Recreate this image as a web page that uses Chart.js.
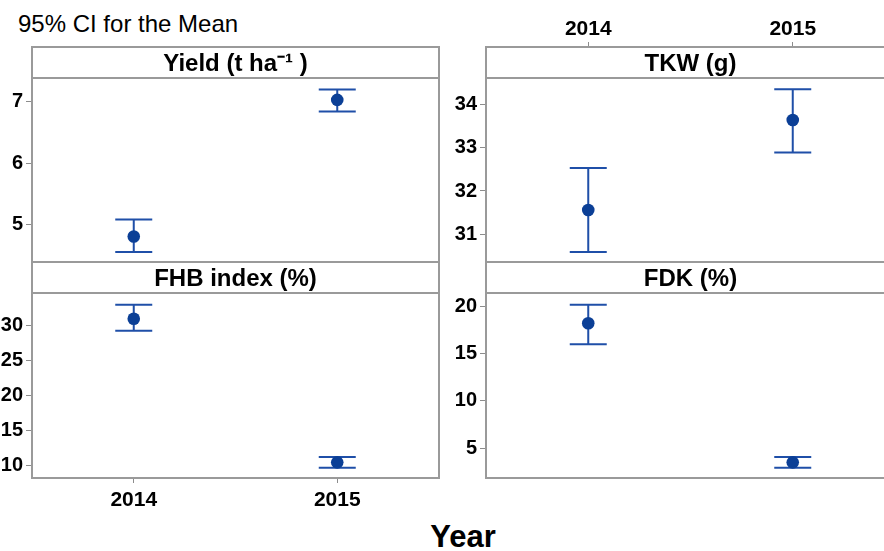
<!DOCTYPE html>
<html><head><meta charset="utf-8">
<script src="https://cdn.jsdelivr.net/npm/chart.js@4/dist/chart.umd.min.js"></script>
<style>
html,body{margin:0;padding:0;background:#fff;overflow:hidden;width:884px;height:551px;position:relative;}
canvas{position:absolute;}
.txt{position:absolute;font-family:'Liberation Sans',Arial,sans-serif;color:#000;white-space:nowrap;line-height:1;}
</style></head><body>
<div class="txt" style="left:18px;top:12px;font-size:24px;">95% CI for the Mean</div>
<div class="txt" style="left:363px;width:200px;text-align:center;top:521px;font-size:31px;font-weight:bold;">Year</div>
<canvas id="cTL" width="442" height="218" style="left:0px;top:46px;"></canvas>
<canvas id="cTR" width="458" height="258" style="left:440px;top:6px;"></canvas>
<canvas id="cBL" width="442" height="247" style="left:0px;top:261px;"></canvas>
<canvas id="cBR" width="458" height="219" style="left:440px;top:261px;"></canvas>
<script>
// ---- data ----
const years = ['2014', '2015'];

const yieldMean  = [4.80, 7.03];
const yieldLower = [4.55, 6.84];
const yieldUpper = [5.08, 7.20];
const yieldTicks = [5, 6, 7];
const yieldRange = [4.385, 7.387];

const tkwMean  = [31.56, 33.64];
const tkwLower = [30.59, 32.89];
const tkwUpper = [32.53, 34.35];
const tkwTicks = [31, 32, 33, 34];
const tkwRange = [30.36, 34.61];

const fhbMean  = [30.94, 10.48];
const fhbLower = [29.23, 9.72];
const fhbUpper = [32.93, 11.24];
const fhbTicks = [10, 15, 20, 25, 30];
const fhbRange = [8.25, 34.6];

const fdkMean  = [18.24, 3.48];
const fdkLower = [16.00, 2.91];
const fdkUpper = [20.21, 4.04];
const fdkTicks = [5, 10, 15, 20];
const fdkRange = [1.82, 21.45];

const panelTitles = ['Yield (t ha\u207B\u00B9 )', 'TKW (g)', 'FHB index (%)', 'FDK (%)'];

// ---- style ----
const FONT = "'Liberation Sans', Arial, sans-serif";
const DOT = '#0b3f96';
const BAR = '#1f4fa8';
const FRAME = '#9a9a9a';
const TICKC = '#8c8c8c';
const CAP = 18.5;
const HEADER_H = 31;

const panelPlugin = {
  id: 'panelPlugin',
  beforeDatasetsDraw(chart) {
    const ds = chart.data.datasets[0];
    const ctx = chart.ctx, xs = chart.scales.x, ys = chart.scales.y, a = chart.chartArea;
    ctx.save();
    ctx.beginPath();
    ctx.rect(a.left, a.top, a.right - a.left, a.bottom - a.top);
    ctx.clip();
    ctx.strokeStyle = BAR;
    ctx.lineWidth = 2;
    ds.lower.forEach((lo, i) => {
      const px = xs.getPixelForValue(i);
      const p1 = ys.getPixelForValue(lo);
      const p2 = ys.getPixelForValue(ds.upper[i]);
      ctx.beginPath();
      ctx.moveTo(px, p1); ctx.lineTo(px, p2);
      ctx.moveTo(px - CAP, p1); ctx.lineTo(px + CAP, p1);
      ctx.moveTo(px - CAP, p2); ctx.lineTo(px + CAP, p2);
      ctx.stroke();
    });
    ctx.restore();
  },
  afterDraw(chart) {
    const ctx = chart.ctx, a = chart.chartArea;
    ctx.save();
    ctx.strokeStyle = FRAME;
    ctx.lineWidth = 2;
    ctx.strokeRect(a.left, a.top - HEADER_H, a.right - a.left, a.bottom - a.top + HEADER_H);
    ctx.beginPath();
    ctx.moveTo(a.left, a.top); ctx.lineTo(a.right, a.top);
    ctx.stroke();
    ctx.restore();
  }
};

function makeChart(id, cfg) {
  return new Chart(document.getElementById(id), {
    type: 'line',
    data: {
      labels: years,
      datasets: [{
        data: cfg.mean, lower: cfg.lower, upper: cfg.upper,
        showLine: false, pointRadius: 6.3, pointBorderWidth: 0,
        pointBackgroundColor: DOT, pointBorderColor: DOT, borderColor: DOT
      }]
    },
    options: {
      responsive: false, animation: false, events: [],
      layout: { padding: cfg.pad, autoPadding: false },
      plugins: {
        legend: { display: false },
        tooltip: { enabled: false },
        title: {
          display: true, text: cfg.title, fullSize: false, weight: -10, color: '#000',
          font: { family: FONT, size: 24, weight: 'bold', lineHeight: 1.05 },
          padding: { top: 5, bottom: 0.8 }
        }
      },
      scales: {
        x: {
          type: 'category', offset: true, display: cfg.xShow, position: cfg.xPos,
          grid: { offset: false, drawOnChartArea: false, drawTicks: true, tickLength: 5, color: TICKC },
          border: { display: false },
          ticks: { color: '#000', padding: cfg.xPad, maxRotation: 0, autoSkip: false,
                   font: { family: FONT, size: 21, weight: 'bold' } },
          afterFit: s => { if (cfg.xShow) s.height = cfg.xH; s.paddingLeft = 0; s.paddingRight = 0; }
        },
        y: {
          type: 'linear', min: cfg.range[0], max: cfg.range[1],
          grid: { drawOnChartArea: false, drawTicks: true, tickLength: 6, color: TICKC },
          border: { display: false },
          ticks: { color: '#000', padding: 3, font: { family: FONT, size: 20, weight: 'bold' } },
          afterBuildTicks: s => { s.ticks = cfg.ticks.map(v => ({ value: v })); },
          afterFit: s => { s.width = cfg.yW; s.paddingTop = 0; s.paddingBottom = 0; }
        }
      }
    },
    plugins: [panelPlugin]
  });
}

makeChart('cTL', { mean: yieldMean, lower: yieldLower, upper: yieldUpper, ticks: yieldTicks, range: yieldRange,
  title: panelTitles[0], xShow: false, xPos: 'bottom', xH: 0, xPad: 3, yW: 32,
  pad: { top: 1, bottom: 2, left: 0, right: 3 } });
makeChart('cTR', { mean: tkwMean, lower: tkwLower, upper: tkwUpper, ticks: tkwTicks, range: tkwRange,
  title: panelTitles[1], xShow: true, xPos: 'top', xH: 40, xPad: 0, yW: 46,
  pad: { top: 1, bottom: 2, left: 0, right: 3 } });
makeChart('cBL', { mean: fhbMean, lower: fhbLower, upper: fhbUpper, ticks: fhbTicks, range: fhbRange,
  title: panelTitles[2], xShow: true, xPos: 'bottom', xH: 30, xPad: 5, yW: 32,
  pad: { top: 1, bottom: 0, left: 0, right: 3 } });
makeChart('cBR', { mean: fdkMean, lower: fdkLower, upper: fdkUpper, ticks: fdkTicks, range: fdkRange,
  title: panelTitles[3], xShow: false, xPos: 'bottom', xH: 0, xPad: 3, yW: 46,
  pad: { top: 1, bottom: 2, left: 0, right: 3 } });
</script>
</body></html>
